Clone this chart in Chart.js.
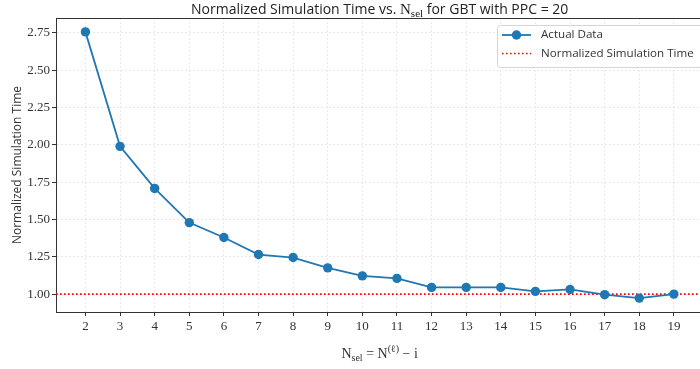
<!DOCTYPE html>
<html>
<head>
<meta charset="utf-8">
<script src="https://cdn.jsdelivr.net/npm/chart.js@4.4.1/dist/chart.umd.min.js"></script>
<style>
  html, body { margin: 0; padding: 0; background: #fff; overflow: hidden; }
  #wrap { width: 708px; height: 369px; }
</style>
</head>
<body>
<div id="wrap"><canvas id="simChart" width="708" height="369"></canvas></div>
<script>
// values
const nSel = [2, 3, 4, 5, 6, 7, 8, 9, 10, 11, 12, 13, 14, 15, 16, 17, 18, 19];
const normTime = [2.757, 1.99, 1.708, 1.479, 1.379, 1.265, 1.245, 1.176, 1.122,
                  1.105, 1.045, 1.045, 1.045, 1.018, 1.031, 0.996, 0.973, 1.0];
const yTicks = [1.00, 1.25, 1.50, 1.75, 2.00, 2.25, 2.50, 2.75];
const refLevel = 1.0;
const xRange = [1.15, 19.85];
const yRange = [0.88, 2.85];

const SANS = "'Open Sans', sans-serif";
const SERIF = "'Liberation Serif', serif";
const BLUE = '#1f77b4';
const INK = '#333';

function drawRich(ctx, parts, cx, y) {
    let total = 0;
    parts.forEach(p => { ctx.font = p.font; p.w = ctx.measureText(p.t).width; total += p.w; });
    let x = cx - total / 2;
    parts.forEach(p => {
        ctx.font = p.font;
        ctx.fillText(p.t, x, y + (p.dy || 0));
        x += p.w;
    });
}

// frame, legend and the axis texts with sub/superscripts
const decor = {
    id: 'decor',
    afterDraw(chart) {
        const { ctx, chartArea: a } = chart;
        ctx.save();

        // top spine
        ctx.strokeStyle = INK;
        ctx.lineWidth = 1;
        ctx.beginPath();
        ctx.moveTo(a.left, a.top + 0.5);
        ctx.lineTo(a.right, a.top + 0.5);
        ctx.stroke();

        // legend box
        const ds = chart.data.datasets;
        ctx.font = '11.6px ' + SANS;
        const textW = Math.max(...ds.map(d => ctx.measureText(d.label).width));
        const bx = 497, by = 25, bh = 42, bw = 44 + textW + 14;
        ctx.fillStyle = 'rgba(255,255,255,0.85)';
        ctx.strokeStyle = '#d6d6d6';
        ctx.beginPath();
        ctx.roundRect(bx + 0.5, by + 0.5, bw, bh, 3);
        ctx.fill();
        ctx.stroke();

        ds.forEach((d, i) => {
            const ry = 35 + i * 18.5;
            ctx.save();
            ctx.strokeStyle = d.borderColor;
            ctx.lineWidth = d.borderWidth;
            ctx.setLineDash(d.borderDash || []);
            ctx.beginPath();
            ctx.moveTo(502, ry);
            ctx.lineTo(531, ry);
            ctx.stroke();
            if (d.pointRadius) {
                ctx.fillStyle = d.pointBackgroundColor;
                ctx.beginPath();
                ctx.arc(516.5, ry, d.pointRadius, 0, Math.PI * 2);
                ctx.fill();
            }
            ctx.restore();
            ctx.fillStyle = '#333';
            ctx.textBaseline = 'middle';
            ctx.fillText(d.label, 541, ry);
        });

        // title
        ctx.textBaseline = 'alphabetic';
        ctx.fillStyle = '#222';
        const cx = (a.left + a.right) / 2;
        drawRich(ctx, [
            { t: 'Normalized Simulation Time vs. ', font: '14px ' + SANS },
            { t: 'N', font: '15px ' + SERIF },
            { t: 'sel', font: '11px ' + SERIF, dy: 3 },
            { t: ' for GBT with PPC = 20', font: '14px ' + SANS }
        ], cx, 13.5);

        // x label
        ctx.fillStyle = '#333';
        drawRich(ctx, [
            { t: 'N', font: '14px ' + SERIF },
            { t: 'sel', font: '10px ' + SERIF, dy: 3 },
            { t: ' = N', font: '14px ' + SERIF },
            { t: '(ℓ)', font: '10px ' + SERIF, dy: -6 },
            { t: ' − i', font: '14px ' + SERIF }
        ], cx, 358);

        // y label
        ctx.save();
        ctx.translate(20.5, (a.top + a.bottom) / 2);
        ctx.rotate(-Math.PI / 2);
        ctx.font = '12px ' + SANS;
        ctx.fillStyle = '#333';
        ctx.textAlign = 'center';
        ctx.fillText('Normalized Simulation Time', 0, 0);
        ctx.restore();

        ctx.restore();
    }
};

const gridOpts = {
    color: 'rgba(0,0,0,0.09)',
    lineWidth: 1,
    tickLength: 4,
    tickColor: INK,
    tickWidth: 1,
    tickBorderDash: []
};

new Chart(document.getElementById('simChart'), {
    type: 'line',
    data: {
        datasets: [
            {
                label: 'Actual Data',
                data: nSel.map((n, i) => ({ x: n, y: normTime[i] })),
                borderColor: BLUE,
                backgroundColor: BLUE,
                pointBackgroundColor: BLUE,
                pointBorderColor: BLUE,
                borderWidth: 1.8,
                pointRadius: 4.7,
                pointBorderWidth: 0,
                tension: 0,
                order: 0
            },
            {
                label: 'Normalized Simulation Time',
                data: [{ x: xRange[0], y: refLevel }, { x: xRange[1], y: refLevel }],
                borderColor: '#ff0000',
                borderWidth: 1.6,
                borderDash: [1.6, 2.4],
                pointRadius: 0,
                order: 1
            }
        ]
    },
    options: {
        responsive: false,
        animation: false,
        layout: { padding: { top: 18, left: 0, right: 0, bottom: 0 } },
        plugins: { legend: { display: false }, title: { display: false }, tooltip: { enabled: false } },
        scales: {
            x: {
                type: 'linear',
                min: xRange[0],
                max: xRange[1],
                afterBuildTicks: s => { s.ticks = nSel.map(v => ({ value: v })); },
                afterFit: s => { s.height = 57; },
                ticks: {
                    autoSkip: false, maxRotation: 0, padding: 3,
                    color: INK, font: { family: SERIF, size: 13 },
                    callback: v => String(v)
                },
                grid: gridOpts,
                border: { color: INK, width: 1, dash: [2, 2] }
            },
            y: {
                min: yRange[0],
                max: yRange[1],
                afterBuildTicks: s => { s.ticks = yTicks.map(v => ({ value: v })); },
                afterFit: s => { s.width = 56; },
                ticks: {
                    padding: 2,
                    color: INK, font: { family: SERIF, size: 13 },
                    callback: v => v.toFixed(2)
                },
                grid: gridOpts,
                border: { color: INK, width: 1, dash: [2, 2] }
            }
        }
    },
    plugins: [decor]
});
</script>
</body>
</html>
